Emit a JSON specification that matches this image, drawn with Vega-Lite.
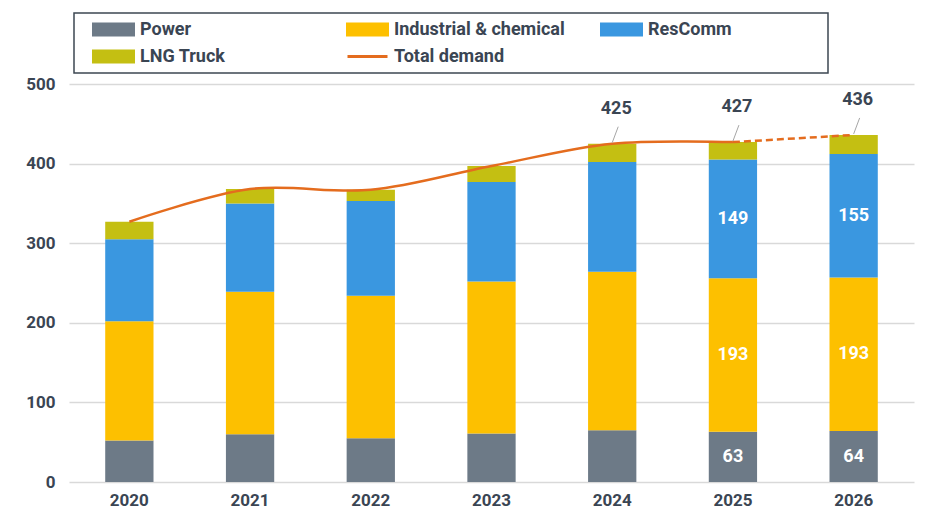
{
  "$schema": "https://vega.github.io/schema/vega-lite/v6.json",
  "autosize": {"type": "none"},
  "width": 845,
  "height": 398,
  "padding": {"left": 69, "top": 84, "right": 24, "bottom": 49},
  "background": "white",
  "config": {
    "font": "Roboto",
    "view": {"stroke": null},
    "axis": {
      "labelFont": "Roboto",
      "labelFontSize": 17,
      "labelFontWeight": "bold",
      "labelColor": "#3a4553",
      "domain": false,
      "ticks": false,
      "gridColor": "#d9d9d9",
      "gridWidth": 1.5,
      "title": null
    },
    "legend": {
      "labelFont": "Roboto",
      "labelFontSize": 18,
      "labelFontWeight": "bold",
      "labelColor": "#3a4553"
    }
  },
  "datasets": {
    "bars": [
      {"year": "2020", "series": "Power", "value": 52},
      {"year": "2020", "series": "Industrial & chemical", "value": 150},
      {"year": "2020", "series": "ResComm", "value": 103},
      {"year": "2020", "series": "LNG Truck", "value": 22},
      {"year": "2021", "series": "Power", "value": 60},
      {"year": "2021", "series": "Industrial & chemical", "value": 179},
      {"year": "2021", "series": "ResComm", "value": 111},
      {"year": "2021", "series": "LNG Truck", "value": 18},
      {"year": "2022", "series": "Power", "value": 55},
      {"year": "2022", "series": "Industrial & chemical", "value": 179},
      {"year": "2022", "series": "ResComm", "value": 119},
      {"year": "2022", "series": "LNG Truck", "value": 14},
      {"year": "2023", "series": "Power", "value": 61},
      {"year": "2023", "series": "Industrial & chemical", "value": 191},
      {"year": "2023", "series": "ResComm", "value": 125},
      {"year": "2023", "series": "LNG Truck", "value": 20},
      {"year": "2024", "series": "Power", "value": 65},
      {"year": "2024", "series": "Industrial & chemical", "value": 199},
      {"year": "2024", "series": "ResComm", "value": 138},
      {"year": "2024", "series": "LNG Truck", "value": 23},
      {"year": "2025", "series": "Power", "value": 63},
      {"year": "2025", "series": "Industrial & chemical", "value": 193},
      {"year": "2025", "series": "ResComm", "value": 149},
      {"year": "2025", "series": "LNG Truck", "value": 22},
      {"year": "2026", "series": "Power", "value": 64},
      {"year": "2026", "series": "Industrial & chemical", "value": 193},
      {"year": "2026", "series": "ResComm", "value": 155},
      {"year": "2026", "series": "LNG Truck", "value": 24}
    ],
    "totals": [
      {"year": "2020", "total": 327},
      {"year": "2021", "total": 368},
      {"year": "2022", "total": 367},
      {"year": "2023", "total": 397},
      {"year": "2024", "total": 425},
      {"year": "2025", "total": 427},
      {"year": "2026", "total": 436}
    ]
  },
  "encoding": {
    "x": {
      "field": "year",
      "type": "ordinal",
      "scale": {"paddingInner": 0.6, "paddingOuter": 0.3},
      "axis": {"labelAngle": 0, "labelPadding": 10, "grid": false}
    }
  },
  "layer": [
    {
      "data": {"name": "bars"},
      "transform": [
        {"calculate": "indexof(['Power','Industrial & chemical','ResComm','LNG Truck'], datum.series)", "as": "ord"}
      ],
      "mark": {"type": "bar"},
      "encoding": {
        "y": {
          "field": "value",
          "type": "quantitative",
          "aggregate": "sum",
          "stack": "zero",
          "scale": {"domain": [0, 500], "nice": false},
          "axis": {"values": [0, 100, 200, 300, 400, 500], "labelPadding": 14, "grid": true}
        },
        "color": {
          "field": "series",
          "type": "nominal",
          "scale": {
            "domain": ["Power", "Industrial & chemical", "ResComm", "LNG Truck", "Total demand"],
            "range": ["#6d7a87", "#fdc000", "#3a97e0", "#c4bf12", "#e46c1e"]
          },
          "legend": {
            "title": "\u00a0",
            "titleOrient": "left",
            "titleFontSize": 17,
            "titlePadding": 13,
            "orient": "none",
            "legendX": 5,
            "legendY": -71,
            "direction": "horizontal",
            "columns": 3,
            "gridAlign": "all",
            "columnPadding": 26,
            "rowPadding": 4,
            "padding": 5,
            "strokeColor": "#3d4752",
            "symbolType": "M-1,-0.55H3V0.55H-1Z",
            "symbolSize": 400,
            "symbolOffset": 0,
            "labelOffset": 25,
            "labelLimit": 400,
            "labelExpr": "datum.label === 'ResComm' ? 'ResComm\u2800\u2800\u2800\u2800\u2800\u2800\u2800' : datum.label",
            "encode": {
              "legend": {"update": {"strokeWidth": {"value": 1.5}}},
              "symbols": {
                "update": {
                  "shape": {"signal": "datum.label === 'Total demand' ? 'M-1,0H3' : 'M-1,-0.55H3V0.55H-1Z'"},
                  "fill": {"signal": "datum.label === 'Total demand' ? 'transparent' : scale('color', datum.value)"},
                  "stroke": {"signal": "datum.label === 'Total demand' ? scale('color', datum.value) : 'transparent'"},
                  "strokeWidth": {"value": 3},
                  "strokeDash": {"value": []},
                  "opacity": {"value": 1}
                }
              }
            }
          }
        },
        "order": {"field": "ord", "type": "quantitative"}
      }
    },
    {
      "data": {"name": "bars"},
      "transform": [
        {"calculate": "indexof(['Power','Industrial & chemical','ResComm','LNG Truck'], datum.series)", "as": "ord"},
        {"stack": "value", "groupby": ["year"], "sort": [{"field": "ord"}], "as": ["v0", "v1"]},
        {"calculate": "(datum.v0 + datum.v1) / 2", "as": "mid"},
        {"filter": "(datum.year === '2025' || datum.year === '2026') && datum.series !== 'LNG Truck'"}
      ],
      "mark": {"type": "text", "color": "white", "fontSize": 18, "fontWeight": "bold", "baseline": "middle", "font": "Roboto"},
      "encoding": {
        "y": {"field": "mid", "type": "quantitative"},
        "text": {"field": "value", "type": "quantitative"}
      }
    },
    {
      "data": {"name": "totals"},
      "transform": [{"filter": "datum.year <= '2025'"}],
      "mark": {"type": "line", "interpolate": "catmull-rom", "strokeWidth": 2.5},
      "encoding": {
        "y": {"field": "total", "type": "quantitative"},
        "color": {"datum": "Total demand"}
      }
    },
    {
      "data": {"name": "totals"},
      "transform": [{"filter": "datum.year >= '2025'"}],
      "mark": {"type": "line", "strokeWidth": 2.5, "strokeDash": [7, 4]},
      "encoding": {
        "y": {"field": "total", "type": "quantitative"},
        "color": {"datum": "Total demand"}
      }
    },
    {
      "data": {"name": "totals"},
      "transform": [{"filter": "datum.year >= '2024'"}],
      "mark": {"type": "rule", "color": "#a6a6a6", "strokeWidth": 1, "yOffset": -1, "y2Offset": -17, "x2Offset": 6},
      "encoding": {
        "y": {"field": "total", "type": "quantitative"},
        "y2": {"field": "total"},
        "x2": {"field": "year"}
      }
    },
    {
      "data": {"name": "totals"},
      "transform": [{"filter": "datum.year >= '2024'"}],
      "mark": {"type": "text", "color": "#3a4553", "fontSize": 18, "fontWeight": "bold", "baseline": "middle", "dy": -35, "dx": 4, "font": "Roboto"},
      "encoding": {
        "y": {"field": "total", "type": "quantitative"},
        "text": {"field": "total", "type": "quantitative"}
      }
    }
  ]
}
